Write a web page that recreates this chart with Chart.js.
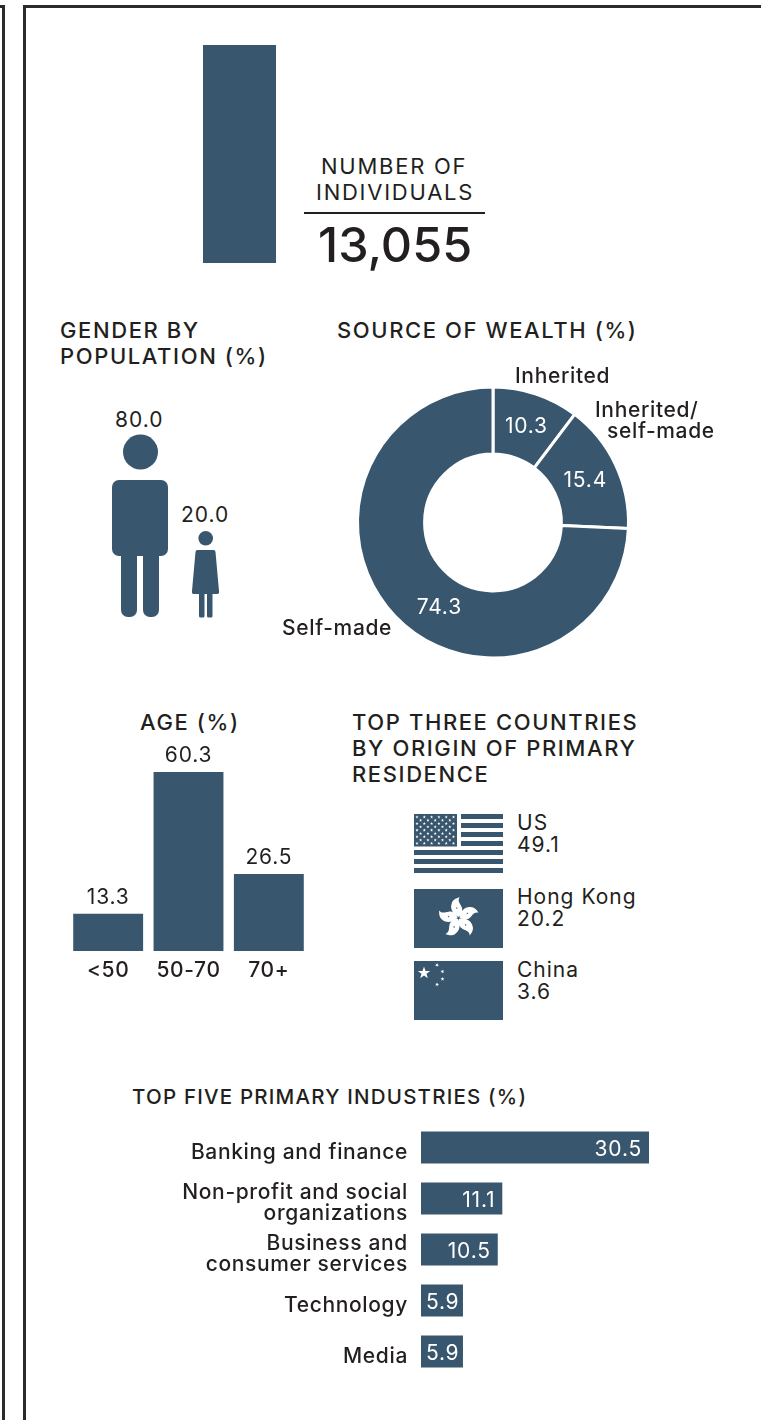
<!DOCTYPE html>
<html lang="en">
<head>
  <meta charset="UTF-8" />
  <title>Wealth profile</title>
  <script src="https://cdn.jsdelivr.net/npm/chart.js"></script>
  <style>
    html, body { margin: 0; padding: 0; background: #fff; }
    body { width: 761px; height: 1420px; position: relative; overflow: hidden; font-family: Inter, Arial, sans-serif; color: #231f20; }
    canvas { position: absolute; }
    svg { position: absolute; left: 0; top: 0; }
    .t { position: absolute; white-space: nowrap; font-size: 21px; line-height: 22px; letter-spacing: 1px; }
    .label { font-weight: 500; letter-spacing: .65px; }
    .head { font-size: 22px; font-weight: 500; line-height: 26px; letter-spacing: 1.6px; }
    .frame { position: absolute; border: 3px solid #2b2b2b; }
  </style>
</head>
<body>
  <div class="frame" style="left:-10px;top:5px;width:9px;height:1430px"></div>
  <div class="frame" style="left:23px;top:5px;width:800px;height:1430px"></div>
  <div style="position:absolute;left:304px;top:212px;width:181px;height:2px;background:#231f20"></div>
  <svg id="icons" width="761" height="1420"></svg>
  <script>
    const BAR = '#38566d';
    const INK = '#231f20';

    const individuals = [13055];

    const genderValues = ['80.0', '20.0'];

    const wealthLabels = ['Inherited', 'Inherited/self-made', 'Self-made'];
    const wealthValues = [10.3, 15.4, 74.3];

    const ageLabels = ['<50', '50-70', '70+'];
    const ageValues = [13.3, 60.3, 26.5];

    const countryNames = ['US', 'Hong Kong', 'China'];
    const countryValues = ['49.1', '20.2', '3.6'];

    const industryLabels = ['Banking and finance', ['Non-profit and social', 'organizations'], ['Business and', 'consumer services'], 'Technology', 'Media'];
    const industryValues = [30.5, 11.1, 10.5, 5.9, 5.9];

    Chart.defaults.font.family = 'Inter, Arial, sans-serif';
    Chart.defaults.color = INK;
    Chart.defaults.animation = false;
    Chart.defaults.plugins.legend.display = false;
    Chart.defaults.plugins.tooltip.enabled = false;
    Chart.register({ id: 'spacing', beforeDraw(c) { c.ctx.letterSpacing = '0.65px'; } });

    function addText(text, left, top, cls, extra) {
      const d = document.createElement('div');
      d.className = 't ' + (cls || '');
      d.innerHTML = text;
      d.style.left = left + 'px';
      d.style.top = top + 'px';
      if (extra) d.style.cssText += extra;
      document.body.appendChild(d);
    }

    function addCanvas(left, top, w, h) {
      const c = document.createElement('canvas');
      c.width = w;
      c.height = h;
      c.style.left = left + 'px';
      c.style.top = top + 'px';
      document.body.appendChild(c);
      return c;
    }

    // draws the value of each mark, position comes from the chart element
    const valueLabels = {
      id: 'valueLabels',
      afterDatasetsDraw(chart, args, opts) {
        const ctx = chart.ctx;
        const data = chart.data.datasets[0].data;
        ctx.save();
        ctx.font = '400 21px Inter, Arial, sans-serif';
        ctx.letterSpacing = '0.8px';
        ctx.fillStyle = opts.color;
        chart.getDatasetMeta(0).data.forEach((el, i) => {
          let x, y;
          if (opts.mode === 'top') {
            x = el.x; y = el.y - 16;
            ctx.textAlign = 'center';
          } else if (opts.mode === 'end') {
            const wide = el.x - el.base > 50;
            x = wide ? el.x - 7 : (el.x + el.base) / 2 + 2;
            y = el.y + 2;
            ctx.textAlign = wide ? 'right' : 'center';
          } else {
            const p = el.getCenterPoint();
            const off = opts.offsets[i];
            x = p.x + off[0]; y = p.y + off[1] + 2;
            ctx.textAlign = 'center';
          }
          ctx.textBaseline = 'middle';
          ctx.fillText(data[i].toFixed(1), x, y);
        });
        ctx.restore();
      }
    };

    /* number of individuals */
    new Chart(addCanvas(203, 45, 73, 218), {
      type: 'bar',
      data: { labels: ['Individuals'], datasets: [{ data: individuals, backgroundColor: BAR, barPercentage: 1, categoryPercentage: 1 }] },
      options: {
        responsive: false,
        scales: { x: { display: false }, y: { display: false, min: 0, max: individuals[0] } }
      }
    });
    addText('NUMBER OF', 321, 156, '', 'font-size:22px;letter-spacing:1.75px;line-height:21px');
    addText('INDIVIDUALS', 316, 182, '', 'font-size:22px;letter-spacing:1.75px;line-height:21px');
    addText(individuals[0].toLocaleString('en-US'), 318, 218, '', 'font-size:48.5px;line-height:54px;font-weight:500;letter-spacing:0');

    /* gender */
    addText('GENDER BY<br>POPULATION (%)', 60, 317, 'head');
    addText(genderValues[0], 115, 409);
    addText(genderValues[1], 181, 504);

    /* source of wealth */
    addText('SOURCE OF WEALTH (%)', 337, 317, 'head');
    new Chart(addCanvas(353, 382, 280, 281), {
      type: 'doughnut',
      data: { labels: wealthLabels, datasets: [{ data: wealthValues, backgroundColor: BAR, borderColor: '#fff', borderWidth: 3 }] },
      options: {
        responsive: false,
        cutout: '50.5%',
        layout: { padding: 3 },
        plugins: { valueLabels: { mode: 'center', color: '#fff', offsets: [[1, -1], [0, 0], [20, 13]] } }
      },
      plugins: [valueLabels]
    });
    addText(wealthLabels[0], 515, 365, 'label');
    addText('Inherited/', 595, 399, 'label');
    addText('self-made', 607, 420, 'label');
    addText(wealthLabels[2], 282, 617, 'label');

    /* age */
    addText('AGE (%)', 140, 709, 'head');
    new Chart(addCanvas(68, 740, 241, 245), {
      type: 'bar',
      data: { labels: ageLabels, datasets: [{ data: ageValues, backgroundColor: BAR, barPercentage: 0.87, categoryPercentage: 1 }] },
      options: {
        responsive: false,
        layout: { padding: { top: 32 }, autoPadding: false },
        scales: {
          x: {
            grid: { display: false, drawTicks: false }, border: { display: false },
            ticks: { font: { size: 21, weight: 500 }, padding: 7, maxRotation: 0 },
            afterFit(s) { s.height = 34; }
          },
          y: { display: false, min: 1, max: 60.3 }
        },
        plugins: { valueLabels: { mode: 'top', color: INK } }
      },
      plugins: [valueLabels]
    });

    /* top three countries */
    addText('TOP THREE COUNTRIES<br>BY ORIGIN OF PRIMARY<br>RESIDENCE', 352, 709, 'head');
    addText(countryNames[0] + '<br>' + countryValues[0], 517, 812);
    addText(countryNames[1] + '<br>' + countryValues[1], 517, 886);
    addText(countryNames[2] + '<br>' + countryValues[2], 517, 959);

    /* industries */
    addText('TOP FIVE PRIMARY INDUSTRIES (%)', 132, 1084, 'head', 'font-size:20.5px;letter-spacing:1.2px');
    new Chart(addCanvas(130, 1122, 519, 255), {
      type: 'bar',
      data: { labels: industryLabels, datasets: [{ data: industryValues, backgroundColor: BAR, barPercentage: 0.63, categoryPercentage: 1 }] },
      options: {
        responsive: false,
        indexAxis: 'y',
        layout: { autoPadding: false },
        scales: {
          x: { display: false, min: 0.35, max: 30.5 },
          y: {
            grid: { display: false, drawTicks: false }, border: { display: false },
            ticks: { font: { size: 21, weight: 500, lineHeight: 1 }, padding: 13, labelOffset: 5 },
            afterFit(s) { s.width = 291; s.paddingTop = 0; s.paddingBottom = 0; }
          }
        },
        plugins: { valueLabels: { mode: 'end', color: '#fff' } }
      },
      plugins: [valueLabels]
    });

    /* pictograms and flags */
    function star(cx, cy, r, rot) {
      let pts = [];
      for (let i = 0; i < 10; i++) {
        const a = (rot || 0) - Math.PI / 2 + i * Math.PI / 5;
        const rr = i % 2 ? r * 0.4 : r;
        pts.push((cx + rr * Math.cos(a)).toFixed(1) + ',' + (cy + rr * Math.sin(a)).toFixed(1));
      }
      return `<polygon points="${pts.join(' ')}" fill="#fff"/>`;
    }

    let svg = `
      <circle cx="140.5" cy="452" r="17.5" fill="${BAR}"/>
      <rect x="112" y="480" width="56" height="76" rx="7" fill="${BAR}"/>
      <path d="M121 550h16v60a7 7 0 0 1-7 7h-2a7 7 0 0 1-7-7zM143 550h16v60a7 7 0 0 1-7 7h-2a7 7 0 0 1-7-7z" fill="${BAR}"/>
      <circle cx="205.7" cy="538.3" r="7.3" fill="${BAR}"/>
      <path d="M198.5 550h15a2 2 0 0 1 2 2l3.6 40a1.8 1.8 0 0 1-1.8 2h-23.6a1.8 1.8 0 0 1-1.8-2l3.6-40a2 2 0 0 1 2-2z" fill="${BAR}"/>
      <path d="M199 592h5.5v24a1.5 1.5 0 0 1-1.5 1.5h-2.5a1.5 1.5 0 0 1-1.5-1.5zM207 592h5.5v24a1.5 1.5 0 0 1-1.5 1.5h-2.5a1.5 1.5 0 0 1-1.5-1.5z" fill="${BAR}"/>`;

    // US flag
    for (let i = 0; i < 7; i++) {
      const y = 814 + i * 9;
      const x = i < 4 ? 461 : 414;
      svg += `<rect x="${x}" y="${y}" width="${503 - x}" height="5" fill="${BAR}"/>`;
    }
    svg += `<rect x="414" y="814" width="43" height="32.5" fill="${BAR}"/>`;
    for (let r = 0; r < 9; r++) {
      const n = r % 2 ? 5 : 6;
      for (let c = 0; c < n; c++) {
        svg += star(417 + c * 7.3 + (r % 2 ? 3.6 : 0), 817 + r * 3.3, 1.7);
      }
    }

    // Hong Kong flag
    svg += `<rect x="414" y="889" width="89" height="59" fill="${BAR}"/>`;
    for (let i = 0; i < 5; i++) {
      svg += `<path transform="translate(458.5 918) rotate(${i * 72 - 5})" d="M0 -1C-5 -4 -8 -10 -5.5 -15C-4 -19 0 -20 3 -20.5C0 -17 3 -14 4 -11C5.5 -7 3.5 -3 0 -1Z" fill="#fff"/>`;
      svg += star(458.5 + 10 * Math.sin((i * 72 - 10) * Math.PI / 180), 918 - 10 * Math.cos((i * 72 - 10) * Math.PI / 180), 1.1).replace('#fff', BAR);
    }

    // China flag
    svg += `<rect x="414" y="961" width="89" height="59" fill="${BAR}"/>`;
    svg += star(424, 973, 6.5);
    svg += star(437, 965, 2.1, 0.5) + star(442.5, 971.5, 2.1, 0.9) + star(442.5, 979, 2.1, 0) + star(437, 984.5, 2.1, 0.5);

    document.getElementById('icons').innerHTML = svg;
  </script>
</body>
</html>
